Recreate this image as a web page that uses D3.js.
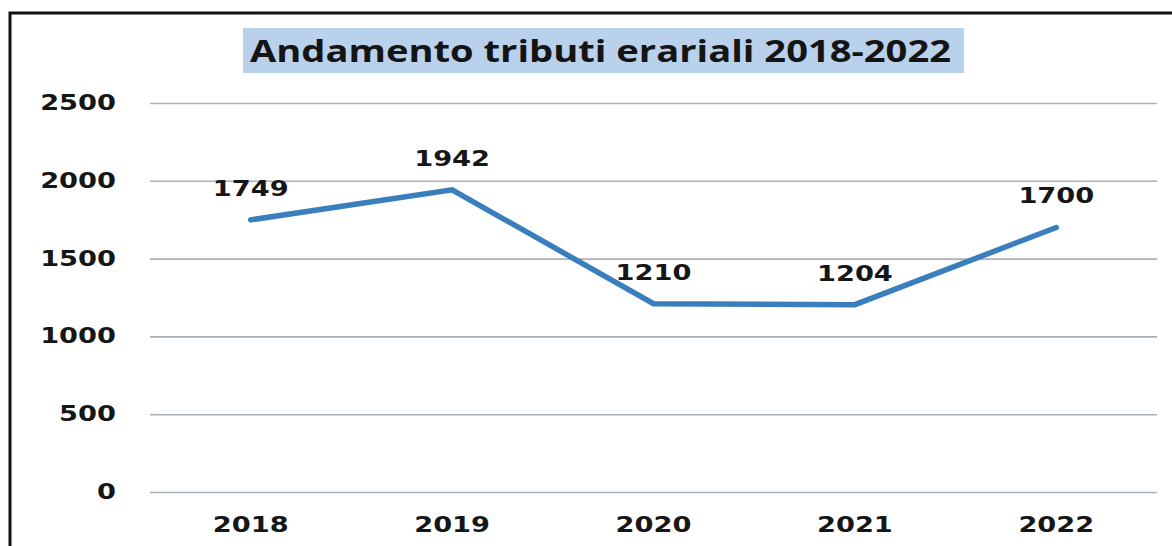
<!DOCTYPE html>
<html>
<head>
<meta charset="utf-8">
<script src="https://cdn.jsdelivr.net/npm/d3@7"></script>
<style>
	body { margin: 0; background: #fff; }
	svg { display: block; }
</style>
</head>
<body>
<script>
// chart data
var years = ['2018', '2019', '2020', '2021', '2022'];
var values = [1749, 1942, 1210, 1204, 1700];
var yTicks = [0, 500, 1000, 1500, 2000, 2500];
var title = 'Andamento tributi erariali 2018-2022';

var W = 1172, H = 546;
var plotLeft = 150, plotRight = 1157, plotTop = 103, plotBottom = 492;
var sx = 1.33; // glyphs in the picture are stretched horizontally

var svg = d3.select('body')
	.append('svg')
	.attr('width', W)
	.attr('height', H);

// frame (only top and left edges fall inside the picture)
svg.append('rect')
	.attr('x', 10)
	.attr('y', 13)
	.attr('width', 1300)
	.attr('height', 700)
	.attr('fill', '#fff')
	.attr('stroke', '#111')
	.attr('stroke-width', 3);

var x = d3.scaleBand()
	.domain(years)
	.range([plotLeft, plotRight]);

var y = d3.scaleLinear()
	.domain([0, 2500])
	.range([plotBottom, plotTop]);

function cx(d) {
	return x(d) + x.bandwidth() / 2;
}

// y axis + gridlines
var yAxis = svg.append('g')
	.attr('transform', 'translate(' + plotLeft + ',0)')
	.call(d3.axisLeft(y)
		.tickValues(yTicks)
		.tickSize(-(plotRight - plotLeft))
		.tickFormat(d3.format('d')));

yAxis.select('.domain').remove();
yAxis.selectAll('.tick line')
	.attr('stroke', '#a9b0b6')
	.attr('stroke-width', 1.6);
yAxis.selectAll('.tick text')
	.attr('x', -34 / sx)
	.attr('transform', 'scale(' + sx + ',1)')
	.attr('fill', '#161616')
	.style('font-family', '"DejaVu Sans", Verdana, sans-serif')
	.style('font-weight', 'bold')
	.style('font-size', '20.5px');

// x axis
var xAxis = svg.append('g')
	.attr('transform', 'translate(0,' + plotBottom + ')')
	.call(d3.axisBottom(x).tickSize(0).tickPadding(25));

xAxis.select('.domain').remove();
xAxis.selectAll('.tick text')
	.attr('transform', 'scale(' + sx + ',1)')
	.attr('fill', '#161616')
	.style('font-family', '"DejaVu Sans", Verdana, sans-serif')
	.style('font-weight', 'bold')
	.style('font-size', '20.5px');

// line
var line = d3.line()
	.x(function(d, i) { return cx(years[i]); })
	.y(function(d) { return y(d); });

svg.append('path')
	.datum(values)
	.attr('d', line)
	.attr('fill', 'none')
	.attr('stroke', '#3a7ebe')
	.attr('stroke-width', 5.5)
	.attr('stroke-linejoin', 'miter')
	.attr('stroke-linecap', 'round');

// data labels
svg.selectAll('.lbl')
	.data(values)
	.enter()
	.append('g')
	.attr('class', 'lbl')
	.attr('transform', function(d, i) {
		return 'translate(' + cx(years[i]) + ',' + (y(d) - 24) + ') scale(' + sx + ',1)';
	})
	.append('text')
	.attr('text-anchor', 'middle')
	.attr('fill', '#161616')
	.style('font-family', '"DejaVu Sans", Verdana, sans-serif')
	.style('font-weight', 'bold')
	.style('font-size', '20.5px')
	.text(function(d) { return d; });

// title
svg.append('rect')
	.attr('x', 243)
	.attr('y', 28)
	.attr('width', 721)
	.attr('height', 45)
	.attr('fill', '#b9d1ea');

svg.append('text')
	.attr('x', 250)
	.attr('y', 62)
	.attr('textLength', 701)
	.attr('lengthAdjust', 'spacingAndGlyphs')
	.attr('fill', '#141414')
	.style('font-family', '"Open Sans", sans-serif')
	.style('font-weight', 'bold')
	.style('font-size', '31px')
	.text(title);
</script>
</body>
</html>
